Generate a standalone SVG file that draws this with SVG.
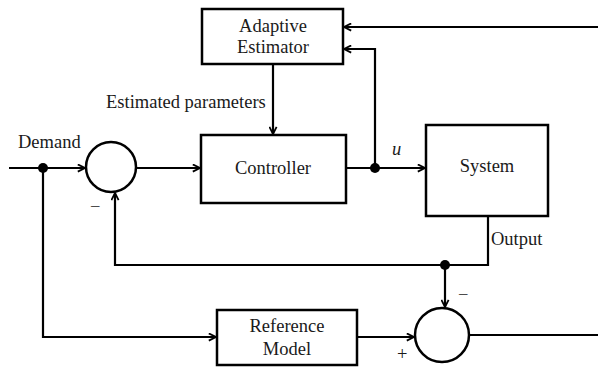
<svg xmlns="http://www.w3.org/2000/svg" width="598" height="369" viewBox="0 0 598 369">
<style>
.box{fill:#fff;stroke:#000;stroke-width:2.5}
.ln{fill:none;stroke:#000;stroke-width:2.2}
text{font-family:"Liberation Serif","DejaVu Serif",serif;font-size:18.5px;fill:#1a1a1a}
.t{text-anchor:middle}
</style>
<defs>
<marker id="ah" viewBox="0 0 10 10" refX="9" refY="5" markerWidth="9" markerHeight="9" markerUnits="userSpaceOnUse" orient="auto">
<path d="M1,1 L9,5 L1,9" fill="none" stroke="#000" stroke-width="2"/>
</marker>
</defs>
<rect width="598" height="369" fill="#fff"/>
<g id="connectors">
<path class="ln" d="M9,168 H85" marker-end="url(#ah)"/>
<path class="ln" d="M136,168 H200" marker-end="url(#ah)"/>
<path class="ln" d="M346,168 H425" marker-end="url(#ah)"/>
<path class="ln" d="M375,168 V49 H344" marker-end="url(#ah)"/>
<path class="ln" d="M598,27 H344" marker-end="url(#ah)"/>
<path class="ln" d="M273,64 V134" marker-end="url(#ah)"/>
<path class="ln" d="M488,216 V265 H115 V193" marker-end="url(#ah)"/>
<path class="ln" d="M445,265 V307" marker-end="url(#ah)"/>
<path class="ln" d="M43,168 V337 H216" marker-end="url(#ah)"/>
<path class="ln" d="M357,337 H414" marker-end="url(#ah)"/>
<path class="ln" d="M469,335 H598"/>
<circle cx="43" cy="168" r="5"/>
<circle cx="375" cy="168" r="5"/>
<circle cx="445" cy="265" r="5"/>
</g>
<g id="estimator">
<rect class="box" x="202" y="9" width="141" height="55"/>
<text class="t" x="273" y="32">Adaptive</text>
<text class="t" x="273" y="53">Estimator</text>
</g>
<g id="controller">
<rect class="box" x="201" y="135" width="145" height="68"/>
<text class="t" x="273" y="174">Controller</text>
</g>
<g id="system">
<rect class="box" x="426" y="125" width="122" height="91"/>
<text class="t" x="487" y="172">System</text>
</g>
<g id="reference">
<rect class="box" x="217" y="310" width="140" height="55"/>
<text class="t" x="287" y="332">Reference</text>
<text class="t" x="287" y="355">Model</text>
</g>
<g id="sum1">
<circle class="box" cx="111" cy="167" r="25"/>
</g>
<g id="sum2">
<circle class="box" cx="442" cy="335" r="27"/>
</g>
<g id="labels">
<text x="106" y="108">Estimated parameters</text>
<text x="18" y="148">Demand</text>
<text x="392" y="155" font-style="italic">u</text>
<text x="491" y="245">Output</text>
<text x="90" y="213">−</text>
<text x="458" y="301">−</text>
<text x="397" y="360">+</text>
</g>
</svg>
